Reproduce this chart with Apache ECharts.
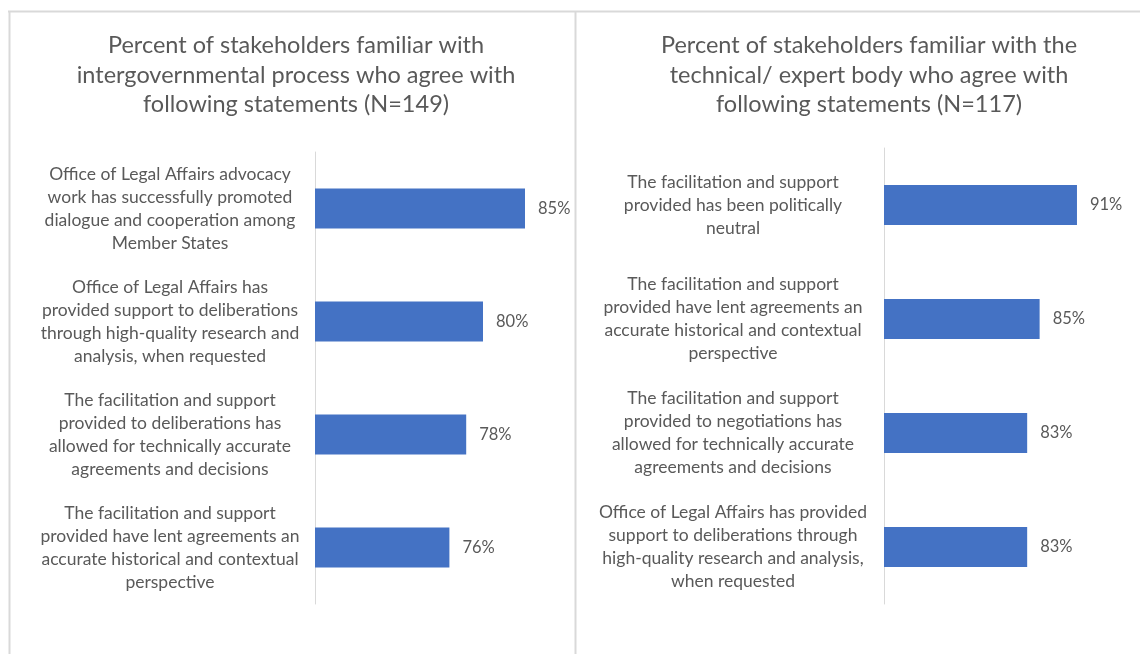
<!DOCTYPE html>
<html>
<head>
<meta charset="utf-8">
<script src="https://cdn.jsdelivr.net/npm/echarts@6/dist/echarts.min.js"></script>
<style>
  html, body { margin: 0; padding: 0; background: #fff; }
  #chart { width: 1140px; height: 654px; }
</style>
</head>
<body>
<div id="chart"></div>
<script>
  // left panel: intergovernmental process
  var leftTitle = 'Percent of stakeholders familiar with\nintergovernmental process who agree with\nfollowing statements (N=149)';
  var leftCategories = [
    'Office of Legal Affairs advocacy\nwork has successfully promoted\ndialogue and cooperation among\nMember States',
    'Office of Legal Affairs has\nprovided support to deliberations\nthrough high-quality research and\nanalysis, when requested',
    'The facilitation and support\nprovided to deliberations has\nallowed for technically accurate\nagreements and decisions',
    'The facilitation and support\nprovided have lent agreements an\naccurate historical and contextual\nperspective'
  ];
  var leftValues = [85, 80, 78, 76];

  // right panel: technical / expert body
  var rightTitle = 'Percent of stakeholders familiar with the\ntechnical/ expert body who agree with\nfollowing statements (N=117)';
  var rightCategories = [
    'The facilitation and support\nprovided has been politically\nneutral',
    'The facilitation and support\nprovided have lent agreements an\naccurate historical and contextual\nperspective',
    'The facilitation and support\nprovided to negotiations has\nallowed for technically accurate\nagreements and decisions',
    'Office of Legal Affairs has provided\nsupport to deliberations through\nhigh-quality research and analysis,\nwhen requested'
  ];
  var rightValues = [91, 85, 83, 83];

  var font = 'Lato, "Open Sans", sans-serif';
  var grey = '#595959';
  var border = '#d9d9d9';

  function catAxis(idx, data, margin) {
    return {
      type: 'category',
      gridIndex: idx,
      inverse: true,
      data: data,
      axisTick: { show: false },
      axisLine: { lineStyle: { color: border, width: 1 } },
      axisLabel: {
        margin: margin,
        align: 'center',
        color: grey,
        fontFamily: font,
        fontSize: 17.5,
        lineHeight: 23
      }
    };
  }

  function valAxis(idx, min, max) {
    return {
      type: 'value',
      gridIndex: idx,
      min: min,
      max: max,
      show: false,
      splitLine: { show: false }
    };
  }

  function barSeries(idx, values) {
    return {
      type: 'bar',
      xAxisIndex: idx,
      yAxisIndex: idx,
      data: values,
      barWidth: 40,
      itemStyle: { color: '#4472c4' },
      label: {
        show: true,
        position: 'right',
        distance: 13,
        formatter: '{c}%',
        color: grey,
        fontFamily: font,
        fontSize: 16.5
      },
      silent: true
    };
  }

  var titleStyle = { color: grey, fontFamily: font, fontSize: 23.5, fontWeight: 'normal', lineHeight: 29.5, align: 'center' };

  var chart = echarts.init(document.getElementById('chart'));
  chart.setOption({
    backgroundColor: '#fff',
    animation: false,
    title: [{
      text: leftTitle,
      left: 291,
      top: 26,
      textAlign: 'center',
      textStyle: titleStyle
    }, {
      text: rightTitle,
      left: 864,
      top: 26,
      textAlign: 'center',
      textStyle: titleStyle
    }],
    grid: [
      { left: 315, top: 152, width: 252, height: 452 },
      { left: 884, top: 148, width: 249, height: 456 }
    ],
    xAxis: [valAxis(0, 60, 90), valAxis(1, 60, 100)],
    yAxis: [catAxis(0, leftCategories, 145), catAxis(1, rightCategories, 151)],
    series: [barSeries(0, leftValues), barSeries(1, rightValues)],
    graphic: [
      { type: 'line', shape: { x1: 8, y1: 11.5, x2: 1140, y2: 11.5 }, style: { stroke: border, lineWidth: 2 } },
      { type: 'line', shape: { x1: 9.5, y1: 11, x2: 9.5, y2: 654 }, style: { stroke: border, lineWidth: 2 } },
      { type: 'line', shape: { x1: 575.5, y1: 11, x2: 575.5, y2: 654 }, style: { stroke: border, lineWidth: 2 } }
    ]
  });
</script>
</body>
</html>
